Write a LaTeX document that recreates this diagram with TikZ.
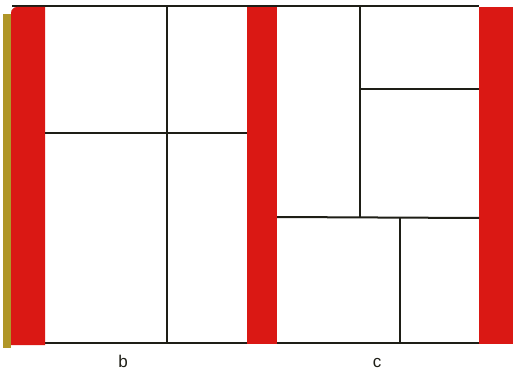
\documentclass[tikz,border=0pt]{standalone}
\usepackage{fontspec}
\setmainfont{Liberation Sans}
\definecolor{barred}{RGB}{218,24,20}
\definecolor{olive}{RGB}{176,150,40}
\definecolor{ink}{RGB}{30,30,22}
\tikzset{
  bar/.style={fill=barred, draw=none},
  rule/.style={draw=ink, line width=2pt},
  lbl/.style={font=\fontsize{17}{19}\selectfont, text=ink, inner sep=0pt}
}
\begin{document}
\begin{tikzpicture}[x=1pt,y=-1pt]
\useasboundingbox (0,0) rectangle (513,374);
\fill[white] (0,0) rectangle (513,374);
% olive edge strip
\fill[olive] (3,14) rectangle (11,348);
% top and bottom rules
\draw[rule] (12,6.5) -- (479,6.5);
\draw[rule] (45,342.5) -- (479,342.5);
% red bars
\fill[bar] (11,345) -- (11,13) arc[start angle=180, end angle=270, radius=6] -- (45,7) -- (45,345) -- cycle;
\fill[bar] (247,7) rectangle (277,344);
\fill[bar] (479,7) rectangle (513,344);
% panel b
\coordinate (b1) at (167,6.5);
\coordinate (b2) at (167,342.5);
\coordinate (b3) at (45,133);
\coordinate (b4) at (247,133);
\draw[rule] (b1) -- (b2);
\draw[rule] (b3) -- (b4);
% panel c
\coordinate (c1) at (360,6.5);
\coordinate (c2) at (360,217);
\coordinate (c3) at (360,89.5);
\coordinate (c4) at (479,89.5);
\coordinate (c5) at (277,217);
\coordinate (c6) at (479,218);
\coordinate (c7) at (400,218);
\coordinate (c8) at (400,342.5);
\draw[rule] (c1) -- (c2);
\draw[rule] (c3) -- (c4);
\draw[rule] (c5) -- (c6);
\draw[rule] (c7) -- (c8);
% labels
\node[lbl] (lb) at (123,361) {b};
\node[lbl] (lc) at (377,363) {c};
\end{tikzpicture}
\end{document}
